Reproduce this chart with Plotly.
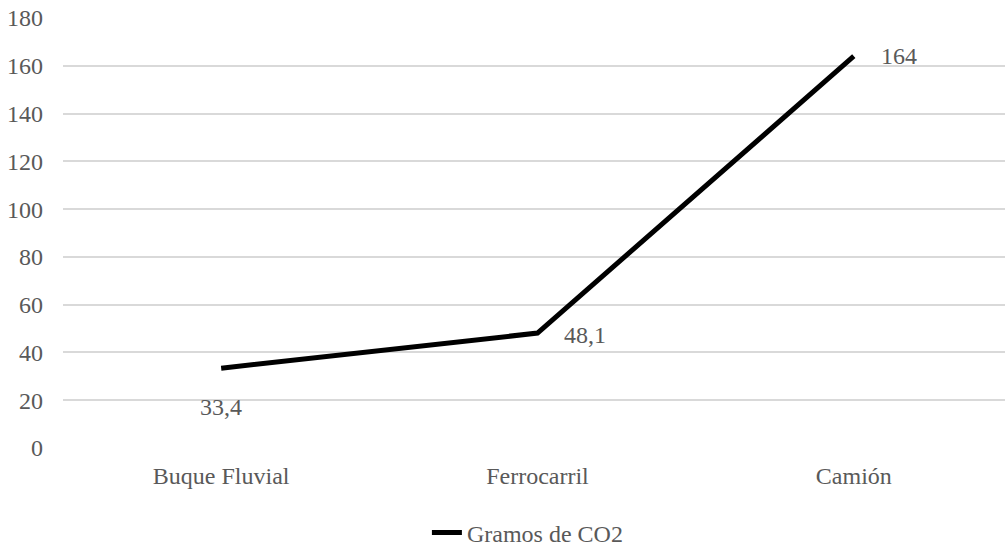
import plotly.graph_objects as go

# Emisiones por modo de transporte
modos = ["Buque Fluvial", "Ferrocarril", "Camión"]
gramos_co2 = [33.4, 48.1, 164]
serie = "Gramos de CO2"
y_ticks = [0, 20, 40, 60, 80, 100, 120, 140, 160, 180]

FONT = "Liberation Serif"
GRAY = "#595959"
SIZE = 24


def etiqueta(v):
    return f"{v:g}".replace(".", ",")


fig = go.Figure()
fig.add_trace(go.Scatter(
    x=modos, y=gramos_co2, mode="lines", name=serie,
    line=dict(color="black", width=5),
    showlegend=True,
))

# Data labels: below for the first point, to the right for the others
offsets = [dict(xanchor="center", yanchor="middle", xshift=0, yshift=-39),
           dict(xanchor="left", yanchor="middle", xshift=25, yshift=-2),
           dict(xanchor="left", yanchor="middle", xshift=25, yshift=0)]
for m, v, o in zip(modos, gramos_co2, offsets):
    fig.add_annotation(x=m, y=v, text=etiqueta(v), showarrow=False,
                       font=dict(family=FONT, size=SIZE, color=GRAY), **o)

fig.update_layout(
    width=1005, height=546,
    margin=dict(l=63, r=0, t=18, b=98, autoexpand=False),
    paper_bgcolor="white", plot_bgcolor="white",
    font=dict(family=FONT, size=SIZE, color=GRAY),
    showlegend=True,
    legend=dict(orientation="h", x=0.493, xanchor="center", y=-0.1977,
                yanchor="middle", borderwidth=0, itemwidth=30,
                font=dict(family=FONT, size=SIZE, color=GRAY)),
    xaxis=dict(range=[-0.5, 2.478], showgrid=False, showline=False,
               ticks="", ticklabelstandoff=11,
               tickfont=dict(family=FONT, size=SIZE, color=GRAY)),
    yaxis=dict(range=[0, 180], tickvals=y_ticks, showgrid=True,
               gridcolor="#d9d9d9", gridwidth=1.5, zeroline=False,
               showline=False, ticks="", ticklabelstandoff=19,
               tickfont=dict(family=FONT, size=SIZE, color=GRAY)),
)

fig.write_html("out.html")
